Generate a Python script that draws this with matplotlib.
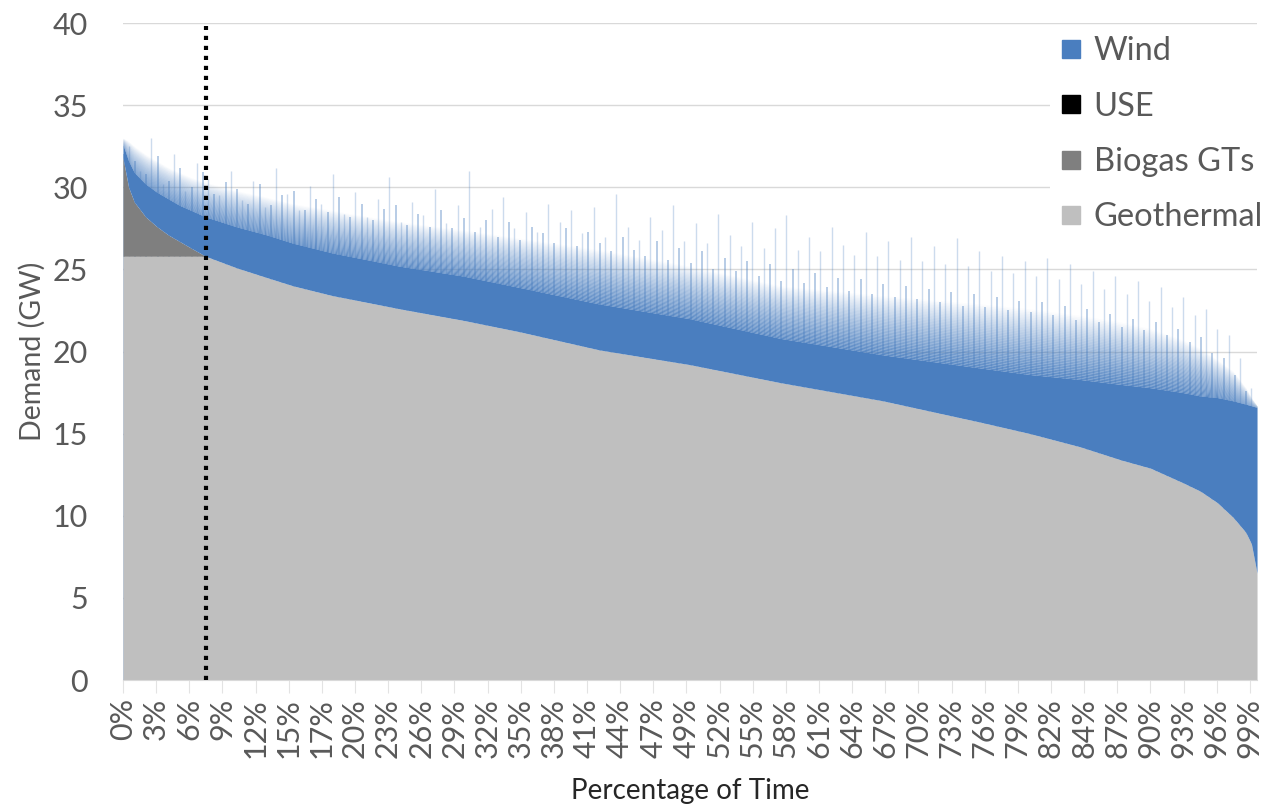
import matplotlib
matplotlib.use("Agg")
import matplotlib.pyplot as plt
import numpy as np
from matplotlib.lines import Line2D

pct_points = [0, 0.5, 1, 2, 3, 4, 5, 6, 7.3, 10, 12.7, 15, 18.5, 20, 24.4, 30, 35, 42, 50,
              58, 67, 75.6, 80, 84.4, 88, 90.6, 93.5, 95, 96.5, 97.9, 99, 99.5, 100]
# top of geothermal + biogas (GW)
residual_top = [31.8, 30.0, 29.1, 28.2, 27.6, 27.1, 26.7, 26.3, 25.8, 25.1, 24.5, 24.0, 23.4, 23.2,
                22.6, 21.9, 21.2, 20.1, 19.2, 18.1, 17.0, 15.7, 15.0, 14.2, 13.4, 12.9, 12.0, 11.5,
                10.8, 9.9, 9.0, 8.3, 6.5]
geothermal_cap = 25.8
# dense part of wind (GW, top)
wind_solid_top = [32.6, 31.6, 30.9, 30.2, 29.7, 29.3, 28.9, 28.6, 28.2, 27.6, 27.1, 26.6, 26.0, 25.8,
                  25.2, 24.6, 23.9, 22.9, 22.0, 20.8, 19.8, 19.0, 18.6, 18.3, 18.0, 17.8, 17.5, 17.3,
                  17.2, 17.0, 16.8, 16.7, 16.6]
# fuzzy part of wind (GW, top)
wind_haze_top = [33.0, 32.8, 32.5, 32.0, 31.6, 31.2, 30.9, 30.6, 30.3, 29.8, 29.4, 29.0, 28.6, 28.4,
                 27.9, 27.4, 26.9, 26.2, 25.2, 24.0, 23.4, 22.9, 22.6, 22.2, 21.8, 21.4, 20.7, 20.2,
                 19.5, 18.8, 17.8, 17.2, 16.7]
# tallest single wind peaks, one per percent of time (GW)
wind_spikes = [32.5, 31.0, 33.0, 30.2, 32.0, 29.8, 31.5, 30.5, 29.5, 31.0,
               29.2, 30.4, 28.8, 31.2, 29.6, 28.6, 30.1, 29.0, 30.8, 28.4,
               29.7, 28.2, 29.3, 30.6, 27.9, 29.1, 28.3, 29.9, 27.8, 28.9,
               31.0, 27.6, 28.7, 29.4, 27.5, 28.5, 27.3, 29.0, 27.9, 28.6,
               27.2, 28.8, 27.0, 29.6, 27.6, 26.8, 28.2, 27.4, 28.9, 26.7,
               27.8, 26.6, 28.4, 27.1, 26.4, 27.9, 26.3, 27.5, 28.3, 26.2,
               27.0, 26.1, 27.6, 26.5, 25.9, 27.3, 25.8, 26.7, 25.6, 27.0,
               25.5, 26.4, 25.3, 26.9, 25.2, 26.1, 24.9, 25.8, 24.8, 25.5,
               24.6, 25.7, 24.4, 25.3, 24.1, 24.9, 23.8, 24.6, 23.5, 24.3,
               23.1, 23.9, 22.7, 23.3, 22.2, 22.6, 21.4, 21.0, 19.6, 17.8]
# medium wind peaks, one per percent of time (GW)
wind_mid_spikes = [32.0, 31.6, 30.8, 31.9, 30.4, 31.2, 30.0, 30.9, 29.6, 30.3,
                   29.9, 29.0, 30.2, 28.9, 29.5, 29.8, 28.6, 29.3, 28.5, 29.4,
                   28.2, 29.0, 28.0, 28.7, 28.9, 27.7, 28.4, 27.6, 28.6, 27.5,
                   28.1, 27.3, 28.0, 27.0, 27.9, 26.8, 27.6, 27.2, 26.6, 27.5,
                   26.4, 27.3, 26.6, 26.1, 27.0, 26.2, 25.8, 26.7, 25.6, 26.3,
                   25.4, 26.1, 25.0, 25.7, 24.9, 25.5, 24.6, 25.3, 24.3, 25.0,
                   24.2, 24.8, 23.9, 24.5, 23.7, 24.4, 23.5, 24.1, 23.3, 24.0,
                   23.2, 23.8, 23.0, 23.6, 22.8, 23.5, 22.7, 23.3, 22.5, 23.1,
                   22.4, 23.0, 22.2, 22.8, 21.9, 22.6, 21.8, 22.3, 21.5, 22.0,
                   21.3, 21.8, 21.0, 21.4, 20.6, 20.9, 19.9, 19.6, 18.6, 17.6]
use_marker_pct = 7.3

tick_labels = ["0%", "3%", "6%", "9%", "12%", "15%", "17%", "20%", "23%", "26%", "29%", "32%",
               "35%", "38%", "41%", "44%", "47%", "49%", "52%", "55%", "58%", "61%", "64%", "67%",
               "70%", "73%", "76%", "79%", "82%", "84%", "87%", "90%", "93%", "96%", "99%"]

plt.rcParams["font.family"] = ["Lato", "DejaVu Sans"]

blue = "#4A7EBF"
x = np.array(pct_points)
resid = np.array(residual_top)
geo = np.minimum(resid, geothermal_cap)
solid = np.array(wind_solid_top)
haze = np.array(wind_haze_top)

fig = plt.figure(figsize=(12.78, 8.11), dpi=100)
ax = fig.add_axes([0.0962, 0.1615, 0.8874, 0.8101])

# wind peaks underneath the stacked areas
ax.vlines(np.arange(len(wind_spikes)) + 0.5, 0, wind_spikes, color=blue, alpha=0.28,
          linewidth=1.0, zorder=1)
ax.vlines(np.arange(len(wind_mid_spikes)) + 0.05, 0, wind_mid_spikes, color=blue, alpha=0.5,
          linewidth=1.1, zorder=1)

ax.fill_between(x, 0, geo, color="#BFBFBF", linewidth=0, zorder=2)
ax.fill_between(x, geo, resid, color="#7F7F7F", linewidth=0, zorder=2)
ax.fill_between(x, resid, solid, color=blue, linewidth=0, zorder=2)

# fade the wind out towards the top
n_layers = 40
for k in range(n_layers):
    t = (k + 0.5) / n_layers
    lo = solid + (haze - solid) * k / n_layers
    hi = solid + (haze - solid) * (k + 1) / n_layers
    ax.fill_between(x, lo, hi, color=blue, alpha=0.9 * (1 - t) ** 0.9, linewidth=0, zorder=3)

ax.axvline(use_marker_pct, ymin=0, ymax=0.995, color="black", linewidth=3,
           linestyle=(0, (1, 1.4)), zorder=5)

ax.set_xlim(0, 100)
ax.set_ylim(0, 40)
ax.set_yticks(range(0, 41, 5))
ax.set_xticks(np.arange(len(tick_labels)) * 100 * 256 / 8760)
ax.set_xticklabels(tick_labels, rotation=90)
ax.grid(axis="y", color="#D9D9D9", linewidth=1)
ax.set_axisbelow(True)
for side in ["top", "right", "left"]:
    ax.spines[side].set_visible(False)
ax.spines["bottom"].set_color("#D9D9D9")
ax.tick_params(axis="y", length=0, labelsize=22, labelcolor="#595959", pad=25)
ax.tick_params(axis="x", length=9, color="#E3E3E3", labelsize=22, labelcolor="#595959", pad=4)

ax.set_ylabel("Demand (GW)", fontsize=20.5, color="#595959", labelpad=5)
ax.set_xlabel("Percentage of Time", fontsize=20, color="#262626", labelpad=14)

handles = [Line2D([], [], marker="s", linestyle="none", markersize=13, color=c)
           for c in [blue, "black", "#7F7F7F", "#BFBFBF"]]
leg = ax.legend(handles, ["Wind", "USE", "Biogas GTs", "Geothermal"], loc="upper right",
                bbox_to_anchor=(1289 / 1278, 1 - 10 / 811), bbox_transform=fig.transFigure,
                fontsize=23.5, frameon=True, handlelength=0.7, handletextpad=0.35,
                labelspacing=0.78, borderpad=0.3, labelcolor="#595959")
leg.get_frame().set_facecolor("white")
leg.get_frame().set_edgecolor("none")
leg.get_frame().set_alpha(1)

fig.savefig("out.png", dpi=100)
